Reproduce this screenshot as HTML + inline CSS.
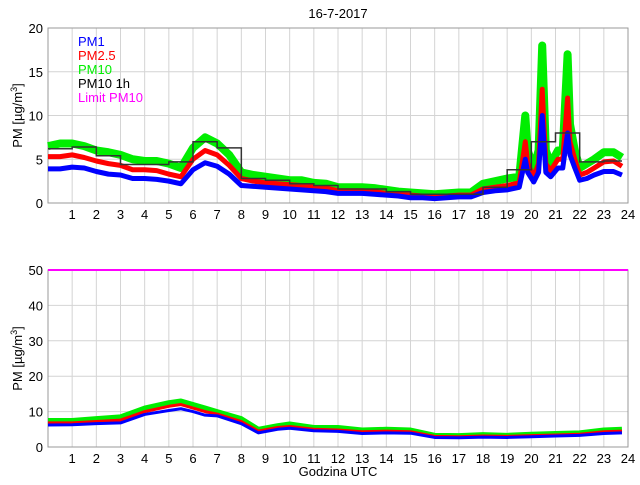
<!DOCTYPE html>
<html><head><meta charset="utf-8"><style>
body{margin:0;background:#fff}
svg text{font-family:"Liberation Sans",sans-serif}
</style></head><body>
<svg id="c" width="640" height="480" viewBox="0 0 640 480"></svg>
<script>
// ---- data ----
const topTimes=[0,0.5,1,1.5,2,2.5,3,3.5,4,4.5,5,5.5,6,6.5,7,7.5,8,8.5,9,9.5,10,10.5,11,11.5,12,12.5,13,13.5,14,14.5,15,15.5,16,16.5,17,17.5,18,18.5,19,19.5,19.75,19.85,20.1,20.3,20.45,20.6,20.8,21.1,21.3,21.5,21.6,21.8,22,22.3,22.6,23,23.4,23.75];
const topPM10=[6.5,6.8,6.8,6.5,6.0,5.8,5.5,5.0,4.8,4.8,4.5,4.0,6.3,7.5,6.8,5.5,3.5,3.2,3.0,2.8,2.6,2.6,2.3,2.2,1.8,1.8,1.8,1.7,1.5,1.3,1.2,1.1,1.0,1.1,1.2,1.2,2.2,2.5,2.8,3.0,10,6,4,6,18,6,4.5,6,6,17,9,6,4,4.5,5,5.8,5.8,5.2];
const topPM25=[5.3,5.3,5.5,5.2,4.8,4.5,4.3,3.8,3.8,3.7,3.3,3.0,5.0,6.0,5.5,4.3,2.8,2.5,2.3,2.2,2.1,2.0,1.8,1.7,1.4,1.4,1.4,1.3,1.1,1.0,0.9,0.8,0.7,0.8,0.9,0.9,1.6,1.8,2.0,2.3,7,4.5,3,4.5,13,4.5,3.7,5,5,12,7,5,3.2,3.5,4,4.7,4.8,4.2];
const topPM1=[3.9,3.9,4.1,4.0,3.6,3.3,3.2,2.8,2.8,2.7,2.5,2.2,3.8,4.6,4.2,3.3,2.0,1.9,1.8,1.7,1.6,1.5,1.4,1.3,1.1,1.1,1.1,1.0,0.9,0.8,0.6,0.6,0.5,0.6,0.7,0.7,1.2,1.4,1.5,1.8,5,3.5,2.4,3.5,10,3.5,3,4,4,8,5.5,4,2.6,2.8,3.2,3.6,3.6,3.2];
const hourlyPM10=[6.2,6.4,5.4,4.4,4.4,4.7,7.0,6.3,2.8,2.6,2.2,2.0,1.6,1.6,1.3,1.0,1.0,1.0,1.8,3.8,7.0,8.0,4.7,4.8];
const botTimes=[0,1,2,3,4,5,5.5,6,6.5,7,8,8.7,9.5,10,11,12,13,14,15,16,17,18,19,20,21,22,23,23.75];
const botPM10=[7.5,7.5,8,8.5,11,12.5,13,12,11,10,8,5,6,6.5,5.5,5.5,4.8,5,4.8,3.3,3.2,3.5,3.3,3.6,3.8,4,4.8,5];
const botPM25=[6.8,6.8,7.2,7.6,10,11.5,12,11,10,9.3,7.2,4.5,5.5,5.8,5,4.8,4.3,4.5,4.3,3,2.9,3.1,3,3.2,3.4,3.6,4.3,4.5];
const botPM1=[6.2,6.3,6.6,6.8,9.2,10.3,10.8,10,9,8.8,6.6,4,5,5.3,4.6,4.4,3.8,4,3.9,2.7,2.6,2.8,2.7,2.9,3.1,3.3,3.8,4];
const limitPM10=50;
const xTicks=[1,2,3,4,5,6,7,8,9,10,11,12,13,14,15,16,17,18,19,20,21,22,23,24];
const topYTicks=[0,5,10,15,20];
const botYTicks=[0,10,20,30,40,50];
// ---- drawing ----
const NS="http://www.w3.org/2000/svg";
const svg=document.getElementById('c');
function el(tag,attrs,parent){const e=document.createElementNS(NS,tag);for(const k in attrs)e.setAttribute(k,attrs[k]);(parent||svg).appendChild(e);return e;}
const X0=48,X1=628;
const xs=h=>X0+(X1-X0)*h/24;
function panel(name,yTop,yBot,yMax,yTicks){
  const ys=v=>yBot-(yBot-yTop)*v/yMax;
  const g=el('g',{});
  
  
  for(const h of xTicks){if(h<24){const l=el('line',{x1:xs(h),x2:xs(h),y1:yTop,y2:yBot,stroke:'#d4d4d4','stroke-width':1},g);
    }
    const t=el('text',{x:xs(h),y:yBot+16,'font-size':13,'text-anchor':'middle',fill:'#000'},g);t.textContent=h;
    }
  for(const v of yTicks){if(v>0&&v<yMax){const l=el('line',{x1:X0,x2:X1,y1:ys(v),y2:ys(v),stroke:'#d4d4d4','stroke-width':1},g);
    }
    const t=el('text',{x:X0-5,y:ys(v)+5,'font-size':13,'text-anchor':'end',fill:'#000'},g);t.textContent=v;
    }
  const f=el('rect',{x:X0,y:yTop,width:X1-X0,height:yBot-yTop,fill:'none',stroke:'#999','stroke-width':1},g);
  
  const yl=el('text',{transform:`translate(22,${(yTop+yBot)/2}) rotate(-90)`,'font-size':13,'text-anchor':'middle'},g);
  yl.innerHTML='PM [µg/m<tspan dy="-5" font-size="9">3</tspan><tspan dy="5">]</tspan>';
  
  return ys;
}
function series(name,times,vals,ys,color,w){
  const p=el('polyline',{points:times.map((t,i)=>xs(t)+','+ys(vals[i])).join(' '),fill:'none',stroke:color,'stroke-width':w,'stroke-linejoin':'round'});
  
  
}
const ysT=panel('top-panel',28,203,20,topYTicks);
series('pm10-line',topTimes,topPM10,ysT,'#00ee00',8);
series('pm25-line',topTimes,topPM25,ysT,'#ff0000',5);
series('pm1-line',topTimes,topPM1,ysT,'#0000ff',5);
let pts=[];hourlyPM10.forEach((v,i)=>{pts.push(xs(i)+','+ysT(v));pts.push(xs(Math.min(i+1,23.75))+','+ysT(v));});
const st=el('polyline',{points:pts.join(' '),fill:'none',stroke:'#333','stroke-width':1.5});



const ysB=panel('bottom-panel',270,447,50,botYTicks);
series('pm10-line-bottom',botTimes,botPM10,ysB,'#00ee00',5);
series('pm25-line-bottom',botTimes,botPM25,ysB,'#ff0000',3);
series('pm1-line-bottom',botTimes,botPM1,ysB,'#0000ff',3);
const lim=el('line',{x1:X0,x2:X1,y1:ysB(limitPM10),y2:ysB(limitPM10),stroke:'#ff00ff','stroke-width':2});



const title=el('text',{x:338,y:18,'font-size':13,'text-anchor':'middle'});title.textContent='16-7-2017';


const xt=el('text',{x:338,y:476,'font-size':13,'text-anchor':'middle'});xt.textContent='Godzina UTC';



const legNames=['PM1','PM2.5','PM10','PM10 1h','Limit PM10'];
const legColors=['#0000ff','#ff0000','#00ee00','#000000','#ff00ff'];
legNames.forEach((n,i)=>{const t=el('text',{x:78,y:46+i*14,'font-size':13,fill:legColors[i]});t.textContent=n;
  
  });
</script>
</body></html>
